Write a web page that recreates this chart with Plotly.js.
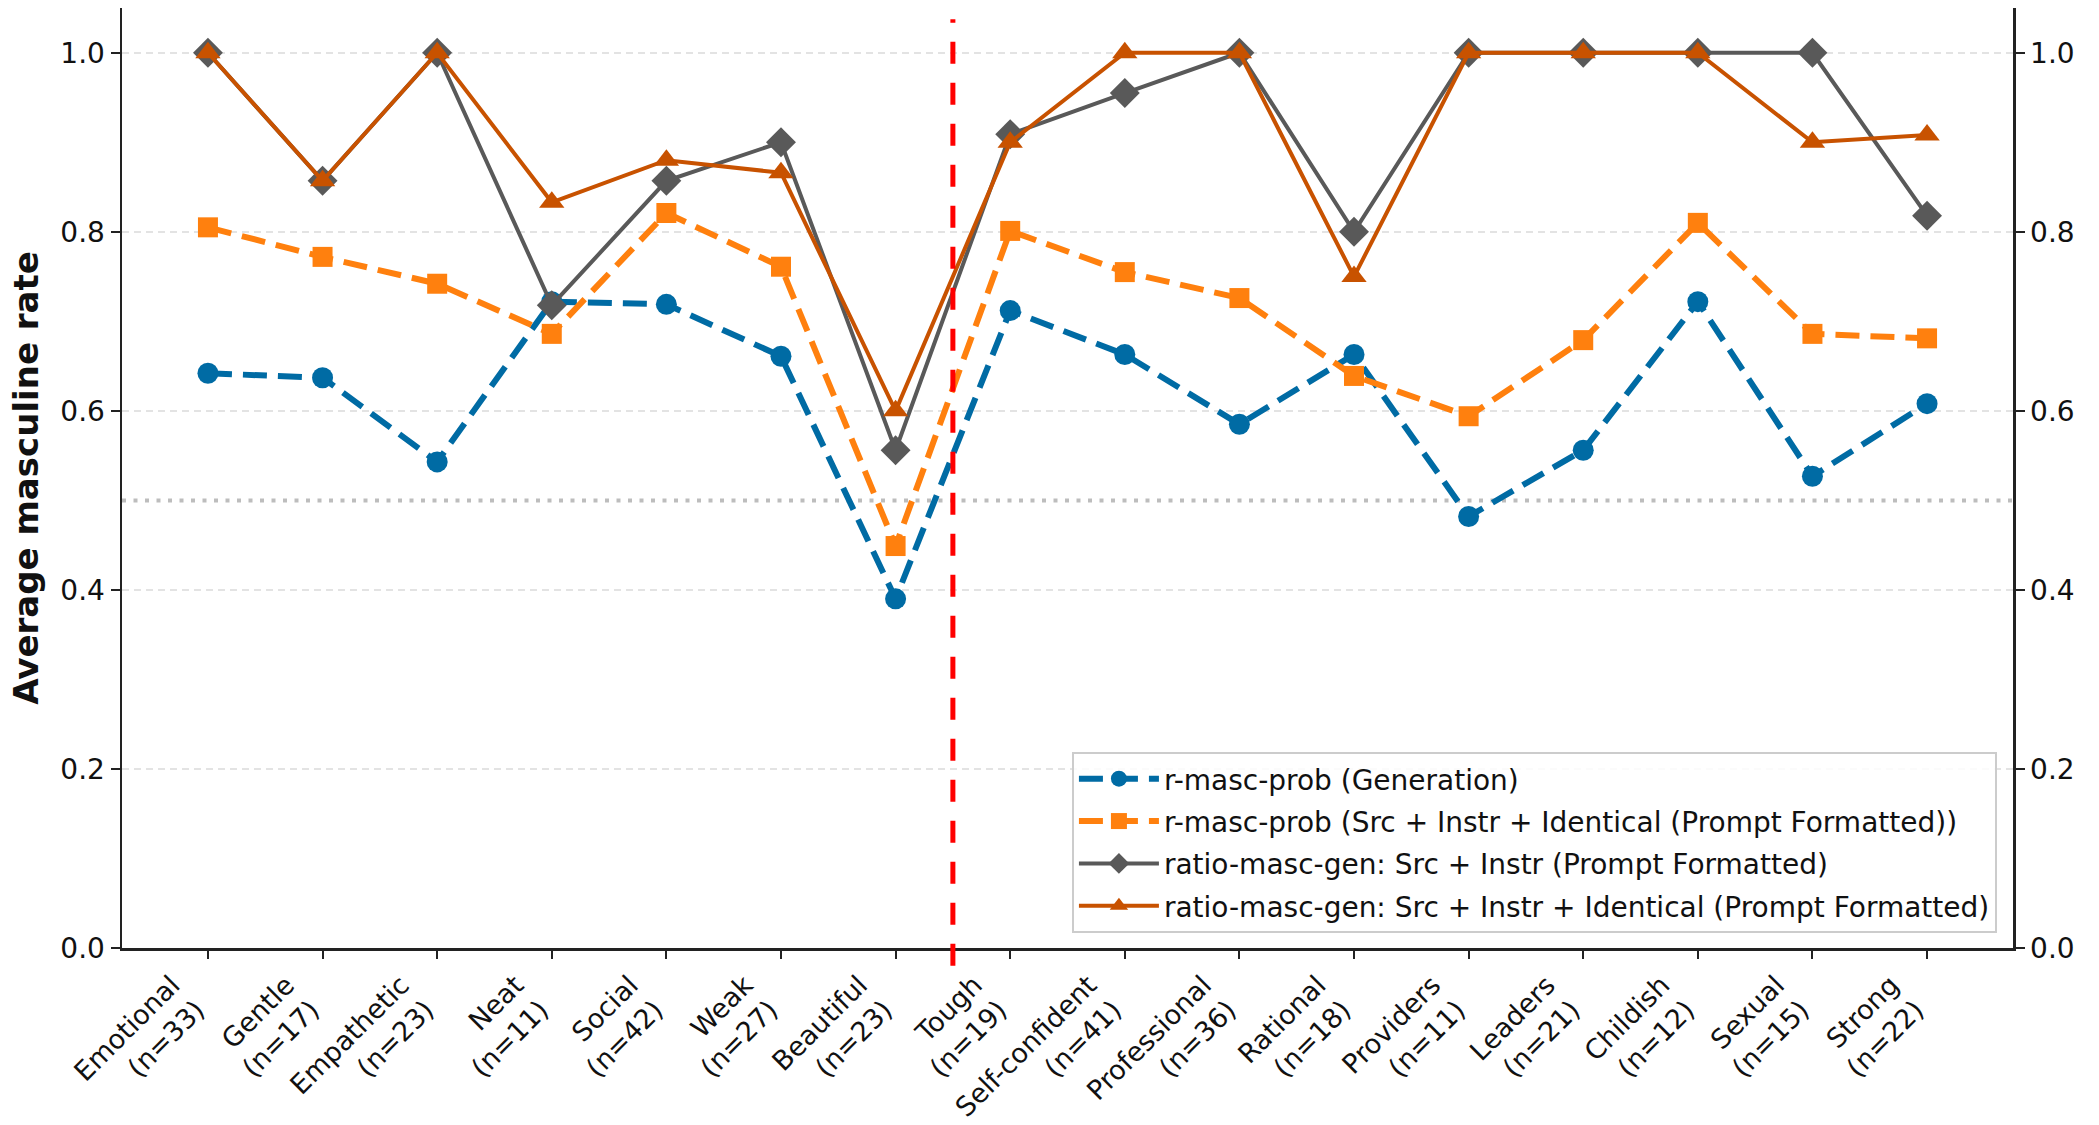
<!DOCTYPE html>
<html>
<head>
<meta charset="utf-8">
<script src="https://cdn.plot.ly/plotly-3.0.1.min.js"></script>
<style>html,body{margin:0;padding:0;background:#fff;}#chart{width:2099px;height:1125px;}</style>
</head>
<body>
<div id="chart"></div>
<script>
const categories = ["Emotional","Gentle","Empathetic","Neat","Social","Weak","Beautiful","Tough","Self-confident","Professional","Rational","Providers","Leaders","Childish","Sexual","Strong"];
const counts = [33,17,23,11,42,27,23,19,41,36,18,11,21,12,15,22];

const rMascProbGeneration = [0.642,0.637,0.543,0.722,0.719,0.661,0.390,0.712,0.663,0.585,0.663,0.482,0.556,0.722,0.527,0.608];
const rMascProbSrcInstrIdentical = [0.805,0.772,0.742,0.686,0.821,0.761,0.449,0.801,0.755,0.726,0.639,0.594,0.679,0.810,0.686,0.681];
const ratioMascGenSrcInstr = [1.0,0.857,1.0,0.718,0.857,0.900,0.556,0.909,0.955,1.0,0.800,1.0,1.0,1.0,1.0,0.818];
const ratioMascGenSrcInstrIdentical = [1.0,0.857,1.0,0.833,0.880,0.866,0.600,0.900,1.0,1.0,0.750,1.0,1.0,1.0,0.900,0.908];

const seriesNames = [
  "r-masc-prob (Generation)",
  "r-masc-prob (Src + Instr + Identical (Prompt Formatted))",
  "ratio-masc-gen: Src + Instr (Prompt Formatted)",
  "ratio-masc-gen: Src + Instr + Identical (Prompt Formatted)"
];
const yTickVals = [0.0,0.2,0.4,0.6,0.8,1.0];
const yTickText = ["0.0","0.2","0.4","0.6","0.8","1.0"];
const dividerPosition = 6.5;
const referenceLevel = 0.5;

const xLabels = categories.map((c,i) => c + "<br>(n=" + counts[i] + ")");

const FONT = "DejaVu Sans";

const traces = [
  {x:xLabels, y:rMascProbGeneration, name:seriesNames[0], legendgroup:"g0", type:"scatter", mode:"lines+markers",
   line:{color:"#006BA4", width:6, dash:"24px,11px"}, marker:{symbol:"circle", size:21, color:"#006BA4"}},
  {x:xLabels, y:rMascProbSrcInstrIdentical, name:seriesNames[1], legendgroup:"g1", type:"scatter", mode:"lines+markers",
   line:{color:"#FF800E", width:6, dash:"24px,11px"}, marker:{symbol:"square", size:20, color:"#FF800E"}},
  {x:xLabels, y:ratioMascGenSrcInstr, name:seriesNames[2], legendgroup:"g2", type:"scatter", mode:"lines+markers",
   line:{color:"#595959", width:4}, marker:{symbol:"diamond", size:23, color:"#595959"}},
  {x:xLabels, y:ratioMascGenSrcInstrIdentical, name:seriesNames[3], legendgroup:"g3", type:"scatter", mode:"lines+markers",
   line:{color:"#C85200", width:4}, marker:{symbol:"triangle-up", size:22, color:"#C85200"}},
  {x:xLabels, y:rMascProbGeneration, yaxis:"y2", type:"scatter", mode:"markers", showlegend:false, hoverinfo:"skip",
   marker:{size:1, opacity:0}}
];

const axisCommon = {
  range:[0,1.05], tickmode:"array", tickvals:yTickVals, ticktext:yTickText,
  ticks:"outside", ticklen:9, tickwidth:2, tickcolor:"#222",
  showline:true, linecolor:"#222", linewidth:2.5,
  tickfont:{family:FONT, size:28, color:"#111"}, zeroline:false
};

const layout = {
  width:2099, height:1125,
  paper_bgcolor:"#fff", plot_bgcolor:"#fff",
  margin:{l:122, r:86, t:8, b:177},
  showlegend:true,
  xaxis:{
    type:"category", range:[-0.75,15.75], tickangle:-45,
    ticks:"outside", ticklen:8, tickwidth:2, tickcolor:"#222",
    showline:true, linecolor:"#222", linewidth:2.5, showgrid:false, zeroline:false,
    tickfont:{family:FONT, size:27, color:"#111"},
    ticklabelshift:-36
  },
  yaxis:Object.assign({}, axisCommon, {
    showgrid:true, gridcolor:"#e3e3e3", gridwidth:2, griddash:"7px,5px",
    title:{text:"<b>Average masculine rate</b>", font:{family:FONT, size:34, color:"#111"}, standoff:12}
  }),
  yaxis2:Object.assign({}, axisCommon, {overlaying:"y", side:"right", showgrid:false}),
  legend:{
    x:0.9915, y:0.016, xanchor:"right", yanchor:"bottom",
    bgcolor:"rgba(255,255,255,0.85)", bordercolor:"#cccccc", borderwidth:2,
    font:{family:FONT, size:28, color:"#111"}, tracegroupgap:3, itemwidth:80,
    traceorder:"grouped"
  },
  shapes:[
    {type:"line", xref:"x", yref:"y", x0:-0.75, x1:15.75, y0:referenceLevel, y1:referenceLevel,
     line:{color:"#bdbdbd", width:4, dash:"4px,7.5px"}, layer:"below"},
    {type:"line", xref:"x", yref:"paper", x0:dividerPosition, x1:dividerPosition, y0:-0.019, y1:0.988,
     line:{color:"#ff0000", width:5, dash:"22px,19px"}}
  ]
};

Plotly.newPlot("chart", traces, layout, {displayModeBar:false, staticPlot:true});
</script>
</body>
</html>
